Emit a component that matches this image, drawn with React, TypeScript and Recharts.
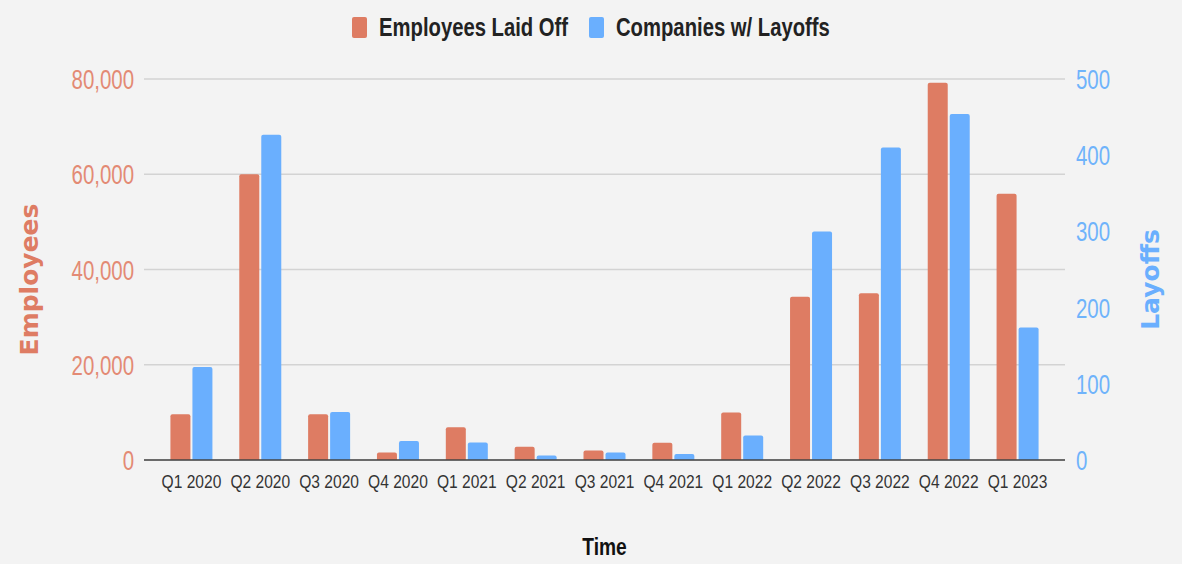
import React from "react";
import {
  BarChart,
  Bar,
  XAxis,
  YAxis,
  CartesianGrid,
  Legend,
} from "recharts";

const quarters = [
  "Q1 2020", "Q2 2020", "Q3 2020", "Q4 2020",
  "Q1 2021", "Q2 2021", "Q3 2021", "Q4 2021",
  "Q1 2022", "Q2 2022", "Q3 2022", "Q4 2022",
  "Q1 2023",
];
const employeesLaidOff = [9600, 60000, 9600, 1600, 6900, 2800, 2000, 3600, 10000, 34300, 35000, 79200, 55900];
const companiesWithLayoffs = [122, 427, 63, 25, 23, 6, 10, 8, 32, 300, 410, 454, 174];

const employeeTicks = [0, 20000, 40000, 60000, 80000];
const layoffTicks = [0, 100, 200, 300, 400, 500];

const ORANGE = "#de7c63";
const BLUE = "#6aaffe";
const SANS = "'Liberation Sans', Arial, sans-serif";

const data = quarters.map((q, i) => ({
  quarter: q,
  employees: employeesLaidOff[i],
  companies: companiesWithLayoffs[i],
}));

// no narrow font installed, so squeeze the regular one horizontally
function Squeezed({ x, y, sx, anchor, dy, children, ...style }: any) {
  return (
    <g transform={`translate(${x},${y}) scale(${sx},1)`}>
      <text x={0} y={0} dy={dy} textAnchor={anchor} {...style}>
        {children}
      </text>
    </g>
  );
}

function QuarterTick({ x, y, payload }: any) {
  return (
    <Squeezed x={x} y={y} dy="0.75em" sx={0.82} anchor="middle" fill="#333" fontSize={19} fontFamily={SANS}>
      {payload.value}
    </Squeezed>
  );
}

function EmployeeTick({ x, y, payload }: any) {
  return (
    <Squeezed x={x} y={y} dy="0.36em" sx={0.73} anchor="end" fill="#e38a74" fontSize={28} fontFamily={SANS}>
      {Number(payload.value).toLocaleString("en-US")}
    </Squeezed>
  );
}

function LayoffTick({ x, y, payload }: any) {
  return (
    <Squeezed x={x} y={y} dy="0.36em" sx={0.73} anchor="start" fill="#6fb3fb" fontSize={28} fontFamily={SANS}>
      {payload.value}
    </Squeezed>
  );
}

let measureCtx: CanvasRenderingContext2D | null = null;
function textWidth(text: string, font: string) {
  if (!measureCtx) measureCtx = document.createElement("canvas").getContext("2d");
  if (!measureCtx) return text.length * 12;
  measureCtx.font = font;
  return measureCtx.measureText(text).width;
}

const LEGEND_FONT = "bold 25px 'Liberation Sans', Arial, sans-serif";
const LEGEND_SX = 0.81;
const seriesOrder = ["employees", "companies"];

function LegendBox({ payload }: any) {
  const items = [...(payload || [])].sort(
    (a: any, b: any) => seriesOrder.indexOf(a.dataKey) - seriesOrder.indexOf(b.dataKey)
  );
  return (
    <div style={{ height: 55, display: "flex", alignItems: "center", justifyContent: "center", gap: 21 }}>
      {items.map((p: any) => {
        const w = textWidth(p.value, LEGEND_FONT);
        return (
          <div key={p.value} style={{ display: "flex", alignItems: "center", gap: 12 }}>
            <div style={{ width: 15, height: 21, background: p.color, borderRadius: 2 }} />
            <span
              style={{
                font: LEGEND_FONT,
                color: "#222",
                display: "inline-block",
                transform: `scaleX(${LEGEND_SX})`,
                transformOrigin: "left center",
                marginRight: -w * (1 - LEGEND_SX),
                whiteSpace: "nowrap",
              }}
            >
              {p.value}
            </span>
          </div>
        );
      })}
    </div>
  );
}

// rotated axis title, placed from the axis viewBox
function sideTitle(text: string, color: string, dx: number) {
  return ({ viewBox }: any) => {
    const x = viewBox.x + dx;
    const y = viewBox.y + viewBox.height / 2 + 10;
    return (
      <text
        x={x}
        y={y}
        transform={`rotate(-90, ${x}, ${y})`}
        textAnchor="middle"
        dominantBaseline="central"
        fill={color}
        style={{ fontFamily: "'DejaVu Sans', sans-serif", fontWeight: 700, fontSize: 25 }}
      >
        {text}
      </text>
    );
  };
}

function timeTitle({ viewBox }: any) {
  return (
    <Squeezed
      x={viewBox.x + viewBox.width / 2}
      y={viewBox.y + viewBox.height - 9}
      sx={0.8}
      anchor="middle"
      fill="#111"
      fontSize={24}
      fontWeight={700}
      fontFamily={SANS}
    >
      Time
    </Squeezed>
  );
}

export default function App() {
  return (
    <div style={{ position: "absolute", left: 0, top: 0, width: 1182, height: 564, background: "#f3f3f3" }}>
      <BarChart
        width={1182}
        height={564}
        data={data}
        margin={{ top: 79, right: 0, bottom: 0, left: 0 }}
        barCategoryGap="19.5%"
        barGap={2}
      >
        <CartesianGrid vertical={false} stroke="#d3d3d3" strokeWidth={1.3} yAxisId="emp" />
        <XAxis
          dataKey="quarter"
          height={104}
          padding={{ left: 13, right: 13 }}
          tickLine={false}
          tickMargin={8}
          interval={0}
          axisLine={{ stroke: "#444", strokeWidth: 1.5 }}
          tick={QuarterTick}
          label={{ content: timeTitle }}
        />
        <YAxis
          yAxisId="emp"
          orientation="left"
          width={144}
          domain={[0, 80000]}
          ticks={employeeTicks}
          axisLine={false}
          tickLine={false}
          tickMargin={4}
          tick={EmployeeTick}
          label={{ content: sideTitle("Employees", ORANGE, 29) }}
        />
        <YAxis
          yAxisId="co"
          orientation="right"
          width={117}
          domain={[0, 500]}
          ticks={layoffTicks}
          axisLine={false}
          tickLine={false}
          tickMargin={5}
          tick={LayoffTick}
          label={{ content: sideTitle("Layoffs", BLUE, 85) }}
        />
        <Legend
          verticalAlign="middle"
          align="center"
          wrapperStyle={{ top: 0, left: 0, width: 1182 }}
          content={LegendBox}
        />
        <Bar
          yAxisId="emp"
          dataKey="employees"
          name="Employees Laid Off"
          fill={ORANGE}
          radius={[2, 2, 0, 0]}
          isAnimationActive={false}
        />
        <Bar
          yAxisId="co"
          dataKey="companies"
          name="Companies w/ Layoffs"
          fill={BLUE}
          radius={[2, 2, 0, 0]}
          isAnimationActive={false}
        />
      </BarChart>
    </div>
  );
}
